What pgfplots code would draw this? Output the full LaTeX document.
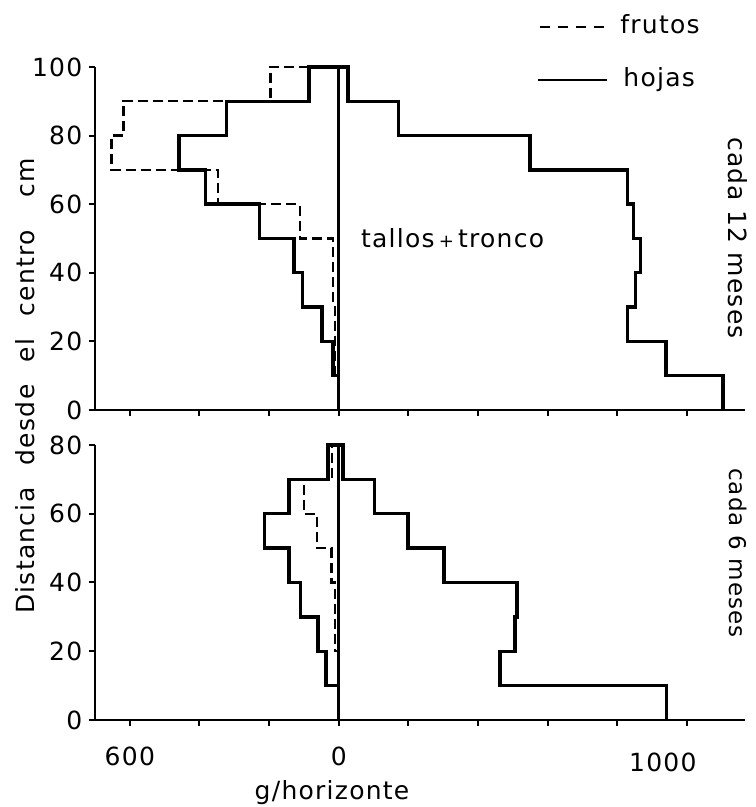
\documentclass[border=0pt]{standalone}
\usepackage{fontspec}
\setmainfont{DejaVu Sans}[LetterSpace=5]
\usepackage{pgfplots}
\pgfplotsset{compat=1.18}

\pgfplotsset{
  panel/.style={
    scale only axis, width=325pt,
    xmin=-700, xmax=1167,
    axis x line*=bottom, axis y line*=left,
    axis line style={line width=1.3pt, -},
    tick style={line width=1pt, black},
    tick align=outside, major tick length=3pt,
    xtick={-600,-400,-200,0,200,400,600,800,1000},
    xticklabel style={yshift=-6pt},
    yticklabel style={xshift=1pt},
    /pgf/number format/assume math mode=true,
    clip=false,
  },
  solida/.style={black, line width=1.7pt, line join=miter},
  trazos/.style={black, line width=1.2pt, dash pattern=on 5pt off 2.5pt},
}

\begin{document}
\fontsize{12.5}{15}\selectfont%
\begin{tikzpicture}
\useasboundingbox (0,0) rectangle (377.5pt,403.5pt);

% ---- cada 12 meses ----
\begin{axis}[panel, at={(47.5pt,198.5pt)}, anchor=south west,
  height=171.5pt, ymin=0, ymax=100, ytick={0,20,...,100},
  xticklabels={}]
  % tallos + tronco (derecha)
  \addplot[solida] coordinates {
    (0,100) (27,100) (27,90) (172,90) (172,80) (549,80) (549,70)
    (829,70) (829,60) (846,60) (846,50) (867,50) (867,40) (853,40)
    (853,30) (829,30) (829,20) (940,20) (940,10) (1104,10) (1104,0)};
  % hojas (izquierda)
  \addplot[solida] coordinates {
    (0,100) (-85,100) (-85,90) (-323,90) (-323,80) (-459,80) (-459,70)
    (-382,70) (-382,60) (-227,60) (-227,50) (-128,50) (-128,40)
    (-104,40) (-104,30) (-48,30) (-48,20) (-16,20) (-16,10) (0,10)};
  % frutos (izquierda)
  \addplot[trazos] coordinates {
    (-85,100) (-196,100) (-196,90) (-618,90) (-618,80) (-653,80)
    (-653,70) (-347,70) (-347,60) (-112,60) (-112,50) (-16,50)
    (-16,30) (-11,30) (-11,10) (0,10)};
  % eje central
  \addplot[solida] coordinates {(0,0) (0,100)};
  \node[anchor=west, inner sep=0pt, xshift=11pt]
    at (axis cs:0,50) {tallos\,{\fontsize{9}{9}\selectfont+}\,tronco};
\end{axis}

% ---- cada 6 meses ----
\begin{axis}[panel, at={(47.5pt,43.5pt)}, anchor=south west,
  height=137.5pt, ymin=0, ymax=80, ytick={0,20,...,80},
  xticklabels={600,{},{},0,{},{},{},{},{}},
  extra x ticks={1000}, extra x tick labels={1000},
  extra x tick style={major tick length=0pt,
    xticklabel style={xshift=-12pt, yshift=-6pt}}]
  % tallos + tronco (derecha)
  \addplot[solida] coordinates {
    (0,80) (12,80) (12,70) (103,70) (103,60) (199,60) (199,50)
    (302,50) (302,40) (512,40) (512,30) (506,30) (506,20) (463,20)
    (463,10) (941,10) (941,0)};
  % hojas (izquierda)
  \addplot[solida] coordinates {
    (0,80) (-31,80) (-31,70) (-143,70) (-143,60) (-213,60) (-213,50)
    (-143,50) (-143,40) (-110,40) (-110,30) (-59,30) (-59,20)
    (-37,20) (-37,10) (0,10)};
  % frutos (izquierda)
  \addplot[trazos] coordinates {
    (0,80) (-20,80) (-20,70) (-100,70) (-100,60) (-62,60) (-62,50)
    (-21,50) (-21,40) (-11,40) (-11,20) (0,20)};
  % eje central
  \addplot[solida] coordinates {(0,0) (0,80)};
\end{axis}

% rótulos
\node[rotate=90] at (12.5pt,210.5pt)
  {Distancia\hspace{0.9em}desde\hspace{0.9em}el\hspace{0.9em}centro\hspace{1.3em}cm};
\node at (166pt,7pt) {g/horizonte};
\node[rotate=-90] at (369pt,284.5pt) {cada 12 meses};
\node[rotate=-90, font=\fontsize{11.5}{14}\selectfont] at (369pt,127pt) {cada 6 meses};

% leyenda
\draw[line width=1.2pt, dash pattern=on 5pt off 4pt] (270pt,390pt) -- (304pt,390pt);
\node[anchor=base west, inner sep=0pt] at (310pt,386.5pt) {frutos};
\draw[line width=1.2pt] (269pt,363.5pt) -- (303.5pt,363.5pt);
\node[anchor=base west, inner sep=0pt] at (311.5pt,360pt) {hojas};
\end{tikzpicture}
\end{document}
